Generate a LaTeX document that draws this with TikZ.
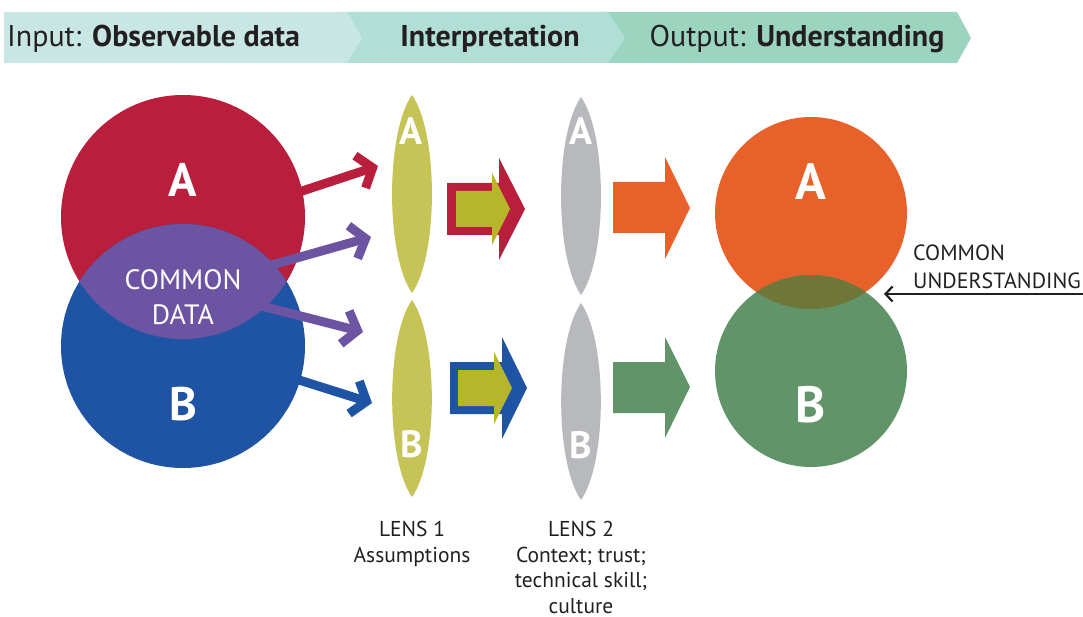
\documentclass[tikz,border=0pt]{standalone}
\usepackage{fontspec}
\setmainfont{PT Sans}
\usetikzlibrary{arrows.meta}
\definecolor{hdrA}{HTML}{C8E7E4}
\definecolor{hdrB}{HTML}{B1DFD5}
\definecolor{hdrC}{HTML}{9BD4BF}
\definecolor{redc}{HTML}{B91F3C}
\definecolor{bluec}{HTML}{1F53A3}
\definecolor{purplec}{HTML}{6C54A3}
\definecolor{lensy}{HTML}{C6C457}
\definecolor{arrowy}{HTML}{B6B52B}
\definecolor{lensg}{HTML}{B8B9BD}
\definecolor{orangec}{HTML}{E8602A}
\definecolor{greenc}{HTML}{62946A}
\definecolor{olivec}{HTML}{6E7638}
\definecolor{ink}{HTML}{231F20}
\begin{document}
\begin{tikzpicture}[x=1pt,y=-1pt,
  hdrtext/.style={font=\fontsize{30}{34}\selectfont, text=ink, inner sep=0},
  bigletter/.style={font=\fontsize{47}{47}\selectfont\bfseries, text=white, inner sep=0},
  bigletterR/.style={font=\fontsize{51}{51}\selectfont\bfseries, text=white, inner sep=0},
  lensletter/.style={font=\fontsize{38}{38}\selectfont\bfseries, text=white, inner sep=0},
  caption/.style={font=\fontsize{21.5}{25.5}\selectfont, text=ink, align=center, inner sep=0},
  thinarrow/.style={line width=9pt, -{Straight Barb[length=13pt,width=34pt]}},
  lensbend/.style={bend left=35, looseness=0.6},
]
\useasboundingbox (0,0) rectangle (1083,617);

% header
\fill[hdrC] (600,12) -- (957,12) -- (971,38) -- (957,63) -- (600,63) -- cycle;
\fill[hdrB] (340,12) -- (608,12) -- (625,38) -- (608,63) -- (340,63) -- cycle;
\fill[hdrA] (4,12) -- (347,12) -- (362,38) -- (347,63) -- (4,63) -- cycle;
\node[hdrtext, anchor=base west] (hin) at (7,47) {Input: \textbf{Observable data}};
\node[hdrtext, anchor=base] (hint) at (490,47) {\textbf{Interpretation}};
\node[hdrtext, anchor=base] (hout) at (797,47) {Output: \textbf{Understanding}};

% left circles
\coordinate (cA) at (183,217);
\coordinate (cB) at (183,346);
\fill[redc] (cA) circle[radius=122];
\fill[bluec] (cB) circle[radius=122];
\begin{scope}
  \clip (cA) circle[radius=122];
  \fill[purplec] (cB) circle[radius=122];
\end{scope}

% thin arrows
\coordinate (r0) at (290,195); \coordinate (r1) at (378,166);
\coordinate (p0) at (240,274); \coordinate (p1) at (371,237);
\coordinate (q0) at (250,303); \coordinate (q1) at (363,332);
\coordinate (b0) at (280,374); \coordinate (b1) at (372,403);
\draw[thinarrow, redc] (r0) -- (r1);
\draw[thinarrow, purplec] (p0) -- (p1);
\draw[thinarrow, purplec] (q0) -- (q1);
\draw[thinarrow, bluec] (b0) -- (b1);

\node[bigletter] (tA) at (183,180) {A};
\node[bigletter] (tB) at (183,404) {B};
\node[font=\fontsize{28}{35}\selectfont, text=white, align=center, inner sep=0, anchor=north] (tcd) at (183,269) {COMMON\\DATA};

% lenses
\coordinate (l1At) at (412,95);  \coordinate (l1Ab) at (412,293);
\coordinate (l1Bt) at (412,300); \coordinate (l1Bb) at (412,497);
\coordinate (l2At) at (581,97);  \coordinate (l2Ab) at (581,295);
\coordinate (l2Bt) at (581,303); \coordinate (l2Bb) at (581,500);
\fill[lensy] (l1At) to[lensbend] (l1Ab) to[lensbend] (l1At) -- cycle;
\fill[lensy] (l1Bt) to[lensbend] (l1Bb) to[lensbend] (l1Bt) -- cycle;
\fill[lensg] (l2At) to[lensbend] (l2Ab) to[lensbend] (l2At) -- cycle;
\fill[lensg] (l2Bt) to[lensbend] (l2Bb) to[lensbend] (l2Bt) -- cycle;
\node[lensletter] (la1) at (411,131) {A};
\node[lensletter] (lb1) at (412,444) {B};
\node[lensletter] (la2) at (581,131) {A};
\node[lensletter] (lb2) at (581,445) {B};

% block arrows
\fill[redc] (447,183) -- (499,183) -- (499,158) -- (525,209) -- (499,260) -- (499,235) -- (447,235) -- cycle;
\fill[arrowy] (456,191) -- (492,191) -- (492,173) -- (510,209) -- (492,245) -- (492,227) -- (456,227) -- cycle;
\fill[bluec] (450,362) -- (502,362) -- (502,337) -- (527,388) -- (502,439) -- (502,414) -- (450,414) -- cycle;
\fill[arrowy] (458,370) -- (494,370) -- (494,352) -- (512,388) -- (494,424) -- (494,406) -- (458,406) -- cycle;
\fill[orangec] (613,182) -- (665,182) -- (665,157) -- (690,208) -- (665,259) -- (665,233) -- (613,233) -- cycle;
\fill[greenc] (613,362) -- (665,362) -- (665,337) -- (690,387) -- (665,438) -- (665,413) -- (613,413) -- cycle;

% right circles
\coordinate (oA) at (811,213);
\coordinate (oB) at (811,371);
\fill[orangec] (oA) circle[radius=96];
\fill[greenc] (oB) circle[radius=96];
\begin{scope}
  \clip (oA) circle[radius=96];
  \fill[olivec] (oB) circle[radius=96];
\end{scope}
\node[bigletterR] (rA) at (811,182) {A};
\node[bigletterR] (rB) at (811,405) {B};

% common understanding
\node[font=\fontsize{22}{28}\selectfont, text=ink, align=left, anchor=north west, inner sep=0] (cu) at (913,245) {COMMON\\UNDERSTANDING};
\coordinate (cuS) at (1083,294); \coordinate (cuT) at (884,294);
\draw[ink, line width=2.2pt, -{Straight Barb[length=7pt,width=15pt]}] (cuS) -- (cuT);

% captions
\node[caption, anchor=north] (cap1) at (412,521) {LENS 1\\Assumptions};
\node[caption, anchor=north] (cap2) at (581,521) {LENS 2\\Context; trust;\\technical skill;\\culture};
\end{tikzpicture}
\end{document}
